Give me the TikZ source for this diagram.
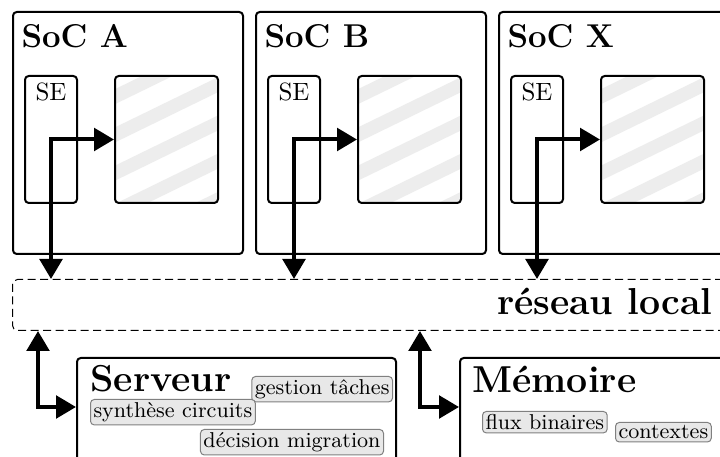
\documentclass[tikz,border=0pt]{standalone}
\usepackage{tikz}
\usetikzlibrary{calc,positioning,arrows.meta}

\begin{document}
\begin{tikzpicture}[x=0.4pt, y=-0.4pt, >={Triangle[length=8pt,width=9pt]},
  soc/.style={draw, thick, rounded corners=1.5pt, inner sep=0pt, anchor=north west, minimum width=92pt, minimum height=96.8pt},
  se/.style={draw, thick, rounded corners=1.5pt, inner sep=0pt, anchor=north west, minimum width=20.8pt, minimum height=50.8pt},
  core/.style={draw, thick, rounded corners=1.5pt, inner sep=0pt, anchor=north west, minimum width=41.2pt, minimum height=50.8pt,
    path picture={\foreach \k in {-3,...,2}{\draw[line width=5.4pt, gray!14] ($(path picture bounding box.south west)+(-5pt,24.8pt+\k*15.3pt)$) -- ++(26:70pt);}}},
  ttl/.style={font=\fontsize{13.2}{15}\selectfont\bfseries, inner sep=0pt, anchor=base west},
  big/.style={font=\fontsize{15}{17}\selectfont\bfseries, inner sep=0pt},
  tag/.style={draw=gray, fill=gray!18, rounded corners=1.5pt, inner sep=1.2pt, font=\fontsize{8.6}{10}\selectfont, anchor=north west},
  net/.style={draw, dash pattern=on 3.2pt off 1.8pt, rounded corners=2pt, inner sep=0pt, anchor=north west, minimum width=291.2pt, minimum height=20.4pt},
  box/.style={draw, thick, rounded corners=1.5pt, inner sep=0pt, anchor=north west, minimum width=127.6pt, minimum height=48pt},
  link/.style={line width=1.6pt, <->}]
\fill[white] (0,0) rectangle (720,457);
\useasboundingbox (0,0) rectangle (720,457);

% les SoC
\foreach \n [count=\i from 0] in {A,B,X}{
  \node[soc] (soc\n) at (12+243*\i,11) {};
  \node[ttl] (ttl\n) at ($(soc\n.north west)+(9,37)$) {SoC \n};
  \node[se, label={[anchor=north, inner sep=3pt]north:SE}] (se\n) at ($(soc\n.north west)+(12,64)$) {};
  \node[core] (core\n) at ($(soc\n.north west)+(102,64)$) {};
}

% reseau
\node[net] (net) at (12,279) {};
\node[big, anchor=base east] (netlbl) at ($(net.north west)+(701,36)$) {réseau local};

\foreach \n in {A,B,X}{\draw[link] (se\n |- net.north) |- (core\n.west);}

% serveur
\node[box] (srv) at (76,357) {};
\node[big, anchor=base west] (srvttl) at ($(srv.north west)+(14,35)$) {Serveur};
\node[tag, anchor=north east] (gest) at ($(srv.north east)+(-4,19)$) {gestion tâches};
\node[tag] (synth) at ($(srv.north west)+(14,42)$) {synthèse circuits};
\node[tag, anchor=north east] (decis) at ($(srv.north east)+(-13,72)$) {décision migration};

% memoire
\node[box] (mem) at (459,357) {};
\node[big, anchor=base west] (memttl) at ($(mem.north west)+(13,36)$) {Mémoire};
\node[tag] (flux) at ($(mem.north west)+(23,54)$) {flux binaires};
\node[tag] (ctx) at ($(mem.north west)+(156,65)$) {contextes};

\coordinate (srvin) at ($(srv.north west)+(0,50)$);
\coordinate (srvnet) at ($(net.south west)+(26,0)$);
\coordinate (memin) at ($(mem.north west)+(0,50)$);
\coordinate (memnet) at ($(net.south west)+(408,0)$);
\draw[link] (srvin) -| (srvnet);
\draw[link] (memin) -| (memnet);
\end{tikzpicture}
\end{document}
